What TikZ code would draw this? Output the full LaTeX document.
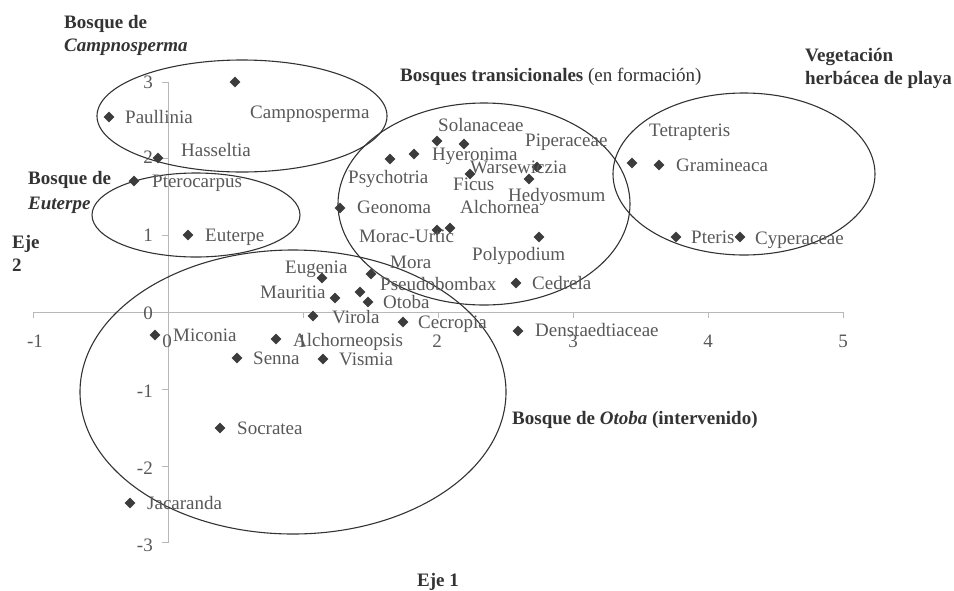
\documentclass[tikz,border=0pt]{standalone}
\usepackage{fontspec}
\setmainfont{Liberation Serif}
\usetikzlibrary{shapes.geometric}
\definecolor{axisgray}{HTML}{B8B8B8}
\definecolor{labgray}{HTML}{585858}
\definecolor{ptgray}{HTML}{3C3C3C}
\definecolor{grpgray}{HTML}{333333}
\begin{document}
\begin{tikzpicture}[x=1pt,y=-1pt,
  pt/.style={diamond,fill=ptgray,inner sep=0pt,minimum size=11pt},
  lab/.style={anchor=west,inner sep=0pt,text=labgray,text height=12.5pt,text depth=0pt,font=\fontsize{19}{22}\selectfont},
  grp/.style={anchor=west,inner sep=0pt,text=grpgray,text height=12.5pt,text depth=0pt,font=\fontsize{19}{22}\selectfont\bfseries},
  ticklab/.style={inner sep=0pt,text=labgray,text height=12.5pt,text depth=0pt,font=\fontsize{19}{22}\selectfont},
  grpell/.style={ellipse,draw=grpgray,line width=1.1pt,inner sep=0pt},
  axisline/.style={draw=axisgray,line width=1pt}]
\useasboundingbox (0,0) rectangle (954,590);

% axes
\coordinate (xl) at (33,312);
\coordinate (xr) at (843,312);
\coordinate (yt) at (168,82);
\coordinate (yb) at (168,543);
\draw[axisline] (xl) -- (xr);
\draw[axisline] (yt) -- (yb);
\foreach \k in {0,...,6} {
  \draw[axisline] ({33+135*\k},312) -- ++(0,6);
}
\foreach \k in {0,...,6} {
  \draw[axisline] (168,{82+76.8*\k}) -- ++(-6,0);
}
% x tick labels
\node[ticklab] (tx1) at (35,341) {-1};
\node[ticklab] (tx2) at (167,341) {0};
\node[ticklab] (tx3) at (302,341) {1};
\node[ticklab] (tx4) at (437,341) {2};
\node[ticklab] (tx5) at (573,341) {3};
\node[ticklab] (tx6) at (708,341) {4};
\node[ticklab] (tx7) at (843,341) {5};
% y tick labels
\node[ticklab,anchor=east] (ty1) at (153,82) {3};
\node[ticklab,anchor=east] (ty2) at (153,157) {2};
\node[ticklab,anchor=east] (ty3) at (153,235) {1};
\node[ticklab,anchor=east] (ty4) at (153,313) {0};
\node[ticklab,anchor=east] (ty5) at (153,391) {-1};
\node[ticklab,anchor=east] (ty6) at (153,468) {-2};
\node[ticklab,anchor=east] (ty7) at (153,545) {-3};

% group ellipses
\node[grpell,minimum width=290pt,minimum height=112pt] (ecamp) at (242,116) {};
\node[grpell,minimum width=208pt,minimum height=84pt] (eeut) at (196,215) {};
\node[grpell,minimum width=292pt,minimum height=202pt] (etrans) at (484,204) {};
\node[grpell,minimum width=262pt,minimum height=162pt] (eveg) at (744,174) {};
\node[grpell,minimum width=426pt,minimum height=284pt] (eoto) at (293,392) {};

% points
\node[pt] (pcamp) at (235,82) {};
\node[pt] (ppaul) at (109,117) {};
\node[pt] (phass) at (158,158) {};
\node[pt] (pptero) at (134,181) {};
\node[pt] (peut) at (188,235) {};
\node[pt] (peug) at (322,278) {};
\node[pt] (pmora) at (371,274) {};
\node[pt] (pmaur) at (335,298) {};
\node[pt] (ppseu) at (360,292) {};
\node[pt] (potob) at (368,302) {};
\node[pt] (pviro) at (313,316) {};
\node[pt] (pcecr) at (403,322) {};
\node[pt] (palcs) at (276,339) {};
\node[pt] (psenn) at (237,358) {};
\node[pt] (pvism) at (323,359) {};
\node[pt] (pmico) at (155,335) {};
\node[pt] (psocr) at (220,428) {};
\node[pt] (pjaca) at (130,503) {};
\node[pt] (pdens) at (518,331) {};
\node[pt] (pcedr) at (516,283) {};
\node[pt] (ppoly) at (539,237) {};
\node[pt] (pmor1) at (437,230) {};
\node[pt] (pmor2) at (450,228) {};
\node[pt] (pgeon) at (340,208) {};
\node[pt] (ppsyc) at (390,159) {};
\node[pt] (phyer) at (414,154) {};
\node[pt] (psola) at (437,141) {};
\node[pt] (pwars) at (464,144) {};
\node[pt] (pficu) at (470,174) {};
\node[pt] (ppipe) at (537,167) {};
\node[pt] (phedy) at (529,179) {};
\node[pt] (ptetr) at (632,163) {};
\node[pt] (pgram) at (659,165) {};
\node[pt] (pter) at (676,237) {};
\node[pt] (pcype) at (740,237) {};

% point labels
\node[lab] (lcamp) at (250,112) {Campnosperma};
\node[lab] (lpaul) at (125,117) {Paullinia};
\node[lab] (lhass) at (181,150) {Hasseltia};
\node[lab] (lptero) at (152,181) {Pterocarpus};
\node[lab] (leut) at (205,235) {Euterpe};
\node[lab] (leug) at (285,267) {Eugenia};
\node[lab] (lmora) at (390,262) {Mora};
\node[lab] (lmaur) at (260,292) {Mauritia};
\node[lab] (lpseu) at (380,284) {Pseudobombax};
\node[lab] (lotob) at (383,302) {Otoba};
\node[lab] (lviro) at (332,317) {Virola};
\node[lab] (lcecr) at (418,322) {Cecropia};
\node[lab] (lalcs) at (293,340) {Alchorneopsis};
\node[lab] (lsenn) at (253,358) {Senna};
\node[lab] (lvism) at (339,359) {Vismia};
\node[lab] (lmico) at (173,335) {Miconia};
\node[lab] (lsocr) at (237,428) {Socratea};
\node[lab] (ljaca) at (147,503) {Jacaranda};
\node[lab] (ldens) at (535,330) {Denstaedtiaceae};
\node[lab] (lcedr) at (532,283) {Cedrela};
\node[lab] (lpoly) at (472,254) {Polypodium};
\node[lab] (lmorac) at (359,236) {Morac-Urtic};
\node[lab] (lgeon) at (357,207) {Geonoma};
\node[lab] (lalch) at (460,207) {Alchornea};
\node[lab] (lpsyc) at (348,177) {Psychotria};
\node[lab] (lficu) at (453,184) {Ficus};
\node[lab] (lhedy) at (508,195) {Hedyosmum};
\node[lab] (lwars) at (470,167) {Warsewiczia};
\node[lab] (lhyer) at (432,154) {Hyeronima};
\node[lab] (lpipe) at (525,140) {Piperaceae};
\node[lab] (lsola) at (438,125) {Solanaceae};
\node[lab] (ltetr) at (649,130) {Tetrapteris};
\node[lab] (lgram) at (676,165) {Gramineaca};
\node[lab] (lpter) at (691,237) {Pteris};
\node[lab] (lcype) at (755,238) {Cyperaceae};

% group labels
\node[grp] (gcamp1) at (64,22) {Bosque de};
\node[grp] (gcamp2) at (64,45) {\textit{Campnosperma}};
\node[grp] (geut1) at (28,178) {Bosque de};
\node[grp] (geut2) at (28,203) {\textit{Euterpe}};
\node[grp] (gtrans) at (400,75) {Bosques transicionales \mdseries(en formación)};
\node[grp] (gveg1) at (805,55) {Vegetación};
\node[grp] (gveg2) at (805,78) {herbácea de playa};
\node[grp] (goto) at (512,418) {Bosque de \textit{Otoba} (intervenido)};
\node[grp] (geje2a) at (12,242) {Eje};
\node[grp] (geje2b) at (12,265) {2};
\node[grp] (geje1) at (417,580) {Eje 1};
\end{tikzpicture}
\end{document}
